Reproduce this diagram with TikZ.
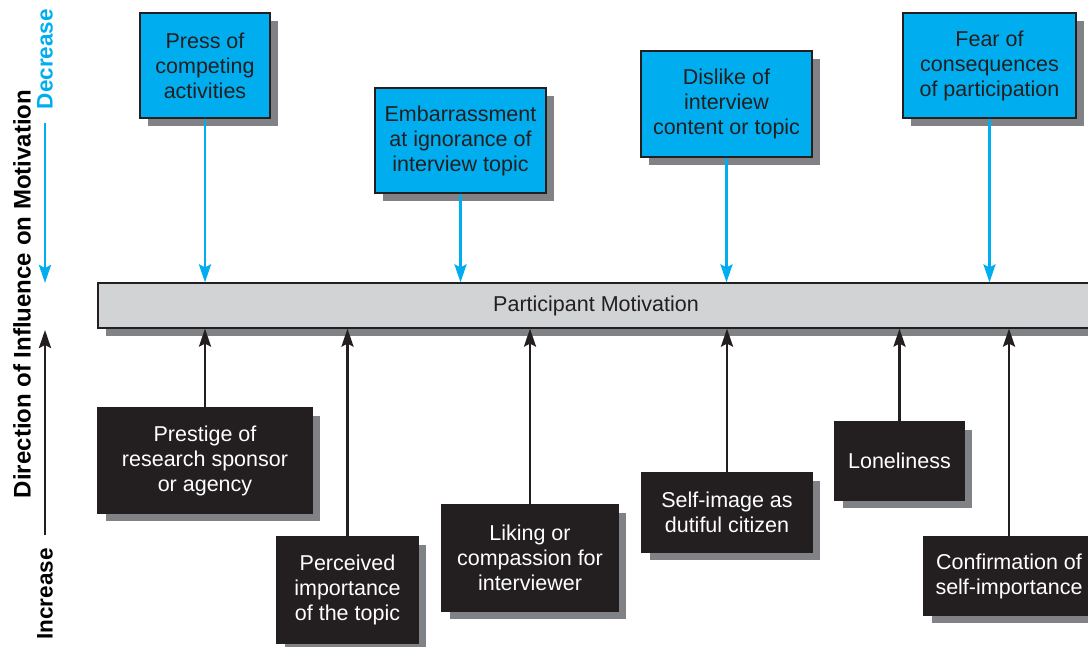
\documentclass[tikz,border=0pt]{standalone}
\usepackage{fontspec}
\setmainfont{Liberation Sans}
\usetikzlibrary{arrows.meta,shadows}
\definecolor{boxCyan}{RGB}{0,174,239}
\definecolor{boxDark}{RGB}{35,31,32}
\definecolor{barGray}{RGB}{209,211,212}
\definecolor{shadowGray}{RGB}{128,130,133}

\begin{document}
\begin{tikzpicture}[x=1pt,y=-1pt,
    card/.style={draw=boxDark, line width=1.2pt, align=center, inner sep=0pt,
      font=\fontsize{21.5}{25}\selectfont,
      drop shadow={shadow xshift=8pt, shadow yshift=-8pt, fill=shadowGray, opacity=1}},
    minus/.style={card, fill=boxCyan, text=boxDark},
    plus/.style={card, fill=boxDark, text=white},
    tip/.style={-{Stealth[length=18pt,width=12pt,inset=3pt]}},
    down/.style={draw=boxCyan, line width=2.6pt, tip},
    up/.style={draw=boxDark, line width=2.6pt, tip},
    axis/.style={rotate=90, font=\fontsize{22.5}{27}\selectfont\bfseries}]
  \useasboundingbox (0,0) rectangle (1088,646);
  \clip (0,0) rectangle (1088,646);

  % the bar in the middle
  \node[card, fill=barGray, text=boxDark, minimum width=996pt, minimum height=45pt]
    (bar) at (596,305.5) {Participant Motivation};

  % what lowers it
  \node[minus, minimum width=130pt, minimum height=105pt] (press) at (205,65.5)
    {Press of\\competing\\activities};
  \node[minus, minimum width=171pt, minimum height=105pt] (embarrass) at (460.5,140.5)
    {Embarrassment\\at ignorance of\\interview topic};
  \node[minus, minimum width=171pt, minimum height=106pt] (dislike) at (726.5,104)
    {Dislike of\\interview\\content or topic};
  \node[minus, minimum width=173pt, minimum height=105pt] (fear) at (989.5,65.5)
    {Fear of\\consequences\\of participation};

  % what raises it
  \node[plus, minimum width=214pt, minimum height=105pt] (prestige) at (205,460.5)
    {Prestige of\\research sponsor\\or agency};
  \node[plus, minimum width=141pt, minimum height=106pt] (perceived) at (347.5,590)
    {Perceived\\importance\\of the topic};
  \node[plus, minimum width=176pt, minimum height=106pt] (liking) at (530,558)
    {Liking or\\compassion for\\interviewer};
  \node[plus, minimum width=170pt, minimum height=79pt] (selfimage) at (727,512.5)
    {Self-image as\\dutiful citizen};
  \node[plus, minimum width=129pt, minimum height=78pt] (lonely) at (899.5,461)
    {Loneliness};
  \node[plus, minimum width=170pt, minimum height=78pt] (confirm) at (1009,576)
    {Confirmation of\\self-importance};

  \foreach \b in {press,embarrass,dislike,fear}
    \draw[down] (\b.south) -- (\b.south |- bar.north);
  \foreach \b in {prestige,perceived,liking,selfimage,lonely,confirm}
    \draw[up] (\b.north) -- (\b.north |- bar.south);

  % axis on the left
  \node[axis, font=\fontsize{24}{28}\selectfont\bfseries] (direction) at (22,294)
    {Direction of Influence on Motivation};
  \node[axis, text=boxCyan] (decrease) at (45,59) {Decrease};
  \node[axis] (increase) at (45,594) {Increase};
  \coordinate (decTip) at (45,283);
  \coordinate (incTip) at (45,330);
  \draw[down] (decrease.west) ++(0,10) -- (decTip);
  \draw[up] (increase.east) ++(0,-10) -- (incTip);
\end{tikzpicture}
\end{document}
